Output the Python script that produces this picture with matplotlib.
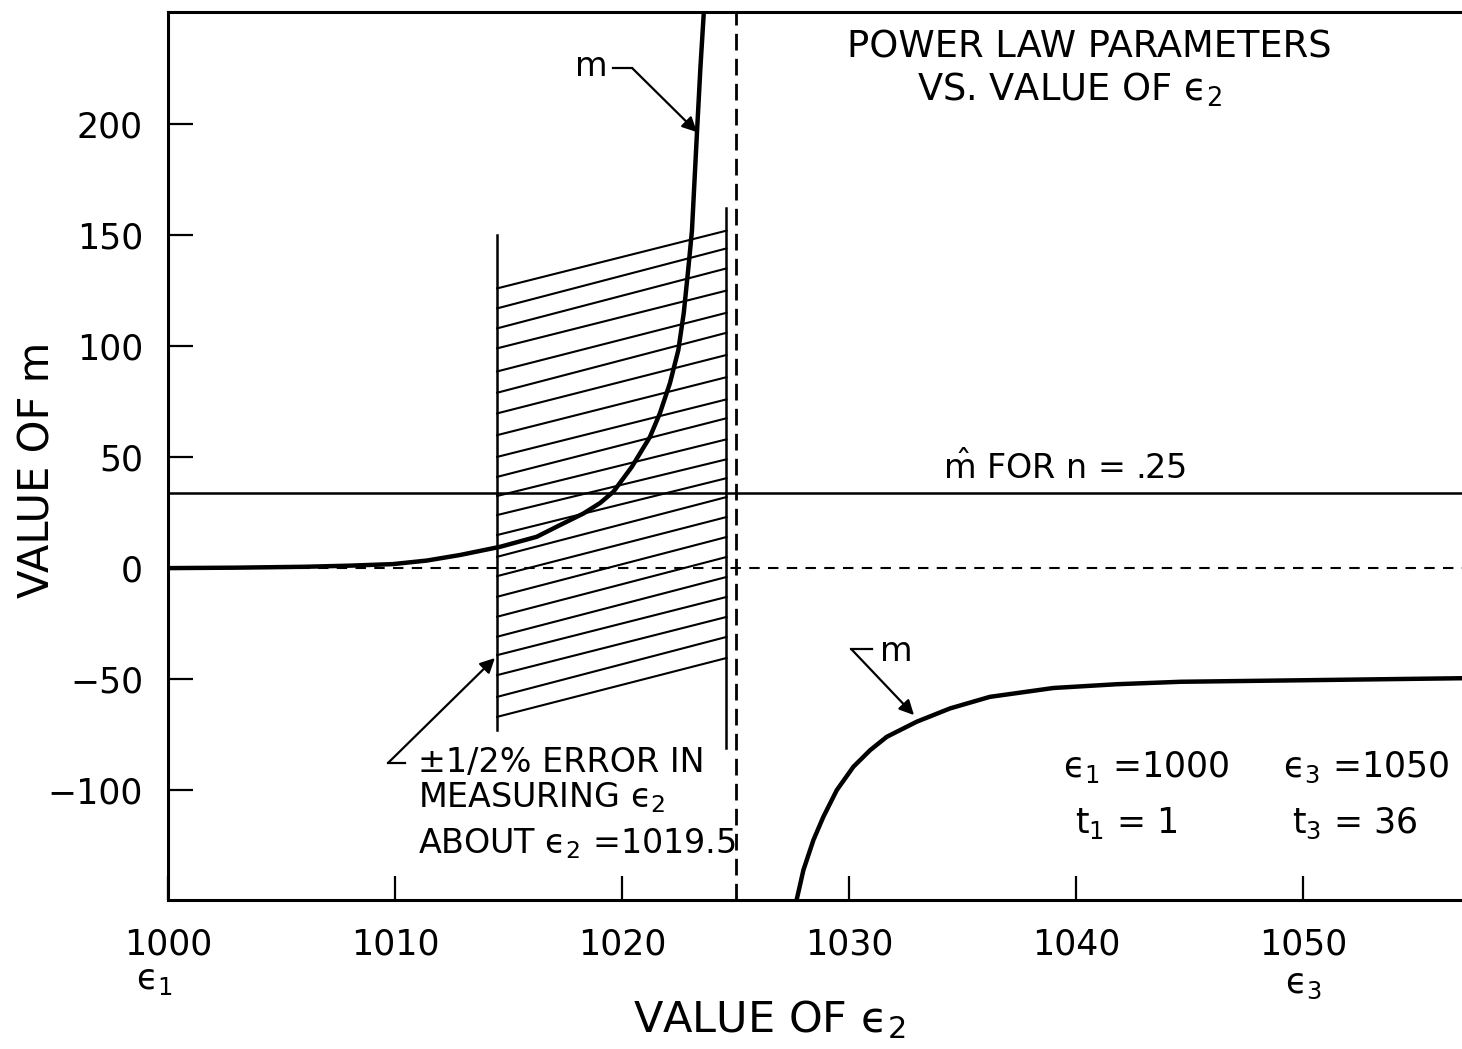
import matplotlib
matplotlib.use("Agg")
import matplotlib.pyplot as plt
from matplotlib.transforms import blended_transform_factory

plt.rcParams['font.family'] = ['DejaVu Sans']
plt.rcParams['mathtext.fontset'] = 'dejavusans'

# m as a function of eps2, branch below the asymptote
eps_left = [1000, 1003, 1006, 1008, 1009.9, 1011.4, 1012.86, 1014.63, 1016.24,
            1017.27, 1018.3, 1019.03, 1019.62, 1020.43, 1021.23, 1021.67,
            1022.11, 1022.48, 1022.72, 1022.92, 1023.08, 1023.3, 1023.45, 1023.6]
m_left = [0, 0.2, 0.6, 1.1, 1.8, 3.4, 5.9, 9.6, 14.1,
          19.4, 24.6, 29.3, 34.4, 45.6, 59.1, 69.8,
          83.3, 98.2, 115, 135, 152, 196, 225, 250]

# branch above the asymptote
eps_right = [1027.69, 1027.99, 1028.43, 1028.87, 1029.46, 1030.19, 1030.93,
             1031.66, 1032.98, 1034.45, 1036.2, 1039.0, 1041.8, 1044.6,
             1050.1, 1057.0]
m_right = [-149.5, -136, -122.5, -112, -100, -89.5, -82,
           -76, -69.2, -63.2, -58, -54, -52.3, -51.2,
           -50.5, -49.6]

m_hat = 34            # m-hat for n = .25
eps_asymptote = 1025  # vertical dashed line

# +/- 1/2 % error band about eps2 = 1019.5
band_eps = [1014.5, 1024.6]
band_left_span = [150, -73]
band_right_span = [162, -81]
hatch_left = [126, 117, 108, 99, 88.6, 79, 69.7, 59.9, 50.1, 41.1, 32.5,
              23.9, 14.9, 5.1, -3.6, -12.9, -21.9, -30.9, -39.2, -48.2, -58, -67]
hatch_right = [152, 144, 135, 125, 115, 106, 96, 86, 76, 67.5, 58,
               49, 40.5, 32, 23, 14, 5, -4, -13, -22, -31, -40.5]

x_ticks = [1000, 1010, 1020, 1030, 1040, 1050]
x_ticklabels = ['1000', '1010', '1020', '1030', '1040', '1050']
y_ticks = [-100, -50, 0, 50, 100, 150, 200]
y_ticklabels = ['\u2212100', '\u221250', '0', '50', '100', '150', '200']

fig = plt.figure(figsize=(14.62, 10.49), dpi=100)
ax = fig.add_axes([168 / 1462, 1 - 900 / 1049, (1462 - 168) / 1462, 888 / 1049])
ax.set_xlim(1000, 1057.0)
ax.set_ylim(-149.5, 250.5)

for side in ('left', 'top', 'bottom'):
    ax.spines[side].set_linewidth(2.2)
ax.spines['right'].set_visible(False)

ax.set_xticks(x_ticks)
ax.set_xticklabels(x_ticklabels)
ax.set_yticks(y_ticks)
ax.set_yticklabels(y_ticklabels)
ax.tick_params(axis='both', direction='in', width=1.6, labelsize=25)
ax.tick_params(axis='x', length=17, pad=20)
ax.tick_params(axis='y', length=18, pad=18)

# curves
ax.plot(eps_left, m_left, color='k', lw=3.2, solid_joinstyle='round')
ax.plot(eps_right, m_right, color='k', lw=3.2, solid_joinstyle='round')

# reference lines
ax.axhline(m_hat, color='k', lw=1.8)
ax.axhline(0, color='k', lw=1.5, ls=(0, (5, 4)))
ax.axvline(eps_asymptote, color='k', lw=2.0, ls=(0, (6, 3)))

# error band with slanted hatching
ax.plot([band_eps[0]] * 2, band_left_span, color='k', lw=1.8)
ax.plot([band_eps[1]] * 2, band_right_span, color='k', lw=1.8)
for yl, yr in zip(hatch_left, hatch_right):
    ax.plot(band_eps, [yl, yr], color='k', lw=1.5)

arrow = dict(arrowstyle='-|>', color='k', lw=1.6, mutation_scale=22,
             shrinkA=0, shrinkB=0)

# label for upper branch
ax.text(1018.63, 226, 'm', fontsize=24, ha='center', va='center')
ax.plot([1019.6, 1020.45], [225.2, 225.2], color='k', lw=1.6)
ax.annotate('', xy=(1023.3, 196.4), xytext=(1020.45, 225.2), arrowprops=arrow)

# label for lower branch
ax.text(1032.1, -37.5, 'm', fontsize=24, ha='center', va='center')
ax.plot([1030.1, 1031.0], [-36.5, -36.5], color='k', lw=1.6)
ax.annotate('', xy=(1032.86, -66.2), xytext=(1030.1, -36.5), arrowprops=arrow)

# error band note
ax.plot([1009.69, 1010.44], [-87.8, -87.8], color='k', lw=1.6)
ax.annotate('', xy=(1014.4, -40.5), xytext=(1009.69, -87.8), arrowprops=arrow)
ax.text(1011.0, -87.4, '\u00b11/2% ERROR IN', fontsize=24, ha='left', va='center')
ax.text(1011.0, -103.5, 'MEASURING \u03f5$_2$', fontsize=24, ha='left', va='center')
ax.text(1011.0, -124, 'ABOUT \u03f5$_2$ =1019.5', fontsize=24, ha='left', va='center')

# title block
ax.text(1040.6, 234.7, 'POWER LAW PARAMETERS', fontsize=26.5, ha='center', va='center')
ax.text(1039.7, 215.5, 'VS. VALUE OF \u03f5$_2$', fontsize=26.5, ha='center', va='center')

ax.text(1039.5, 45, r'$\hat{\mathrm{m}}$ FOR n = .25', fontsize=24,
        ha='center', va='center')

# end conditions
ax.text(1043.1, -89.6, '\u03f5$_1$ =1000', fontsize=25, ha='center', va='center')
ax.text(1052.8, -89.6, '\u03f5$_3$ =1050', fontsize=25, ha='center', va='center')
ax.text(1042.2, -114.9, 't$_1$ = 1', fontsize=25, ha='center', va='center')
ax.text(1052.3, -114.9, 't$_3$ = 36', fontsize=25, ha='center', va='center')

# eps markers under the tick labels
trans = blended_transform_factory(ax.transData, ax.transAxes)
ax.text(999.4, -0.09, '\u03f5$_1$', fontsize=25, ha='center', va='center',
        transform=trans)
ax.text(1050.0, -0.095, '\u03f5$_3$', fontsize=25, ha='center', va='center',
        transform=trans)

ax.set_xlabel('VALUE OF \u03f5$_2$', fontsize=31, va='center')
ax.xaxis.set_label_coords(0.465, -0.135)
ax.set_ylabel('VALUE OF m', fontsize=30, va='center')
ax.yaxis.set_label_coords(-0.1005, 0.484)

fig.savefig('out.png', dpi=100)
